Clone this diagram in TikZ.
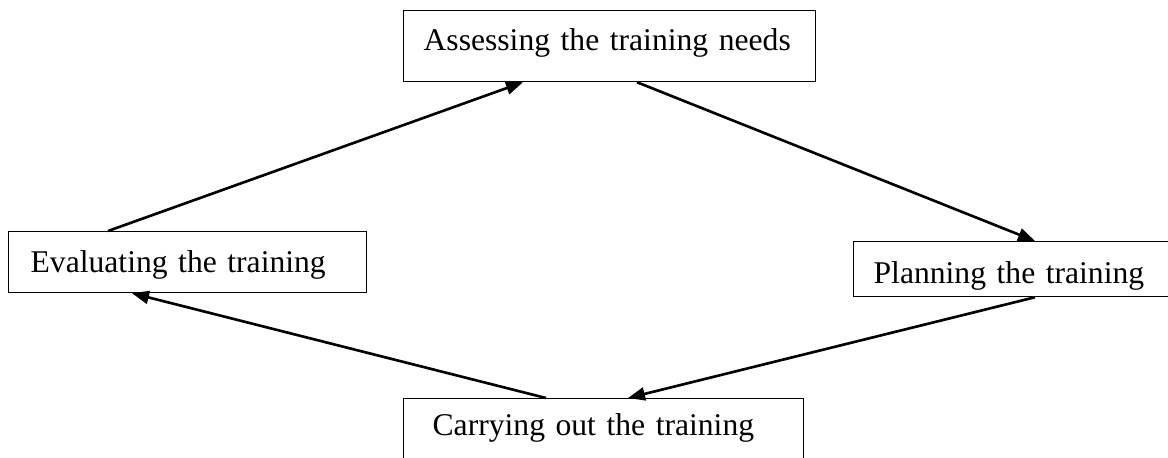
\documentclass[tikz,border=0pt]{standalone}
\usepackage{fontspec}
\setmainfont{Liberation Serif}
\usetikzlibrary{arrows.meta}

\begin{document}
\begin{tikzpicture}[
      stage/.style={draw=black,line width=0.7pt,anchor=north west,align=left,inner ysep=0pt,text depth=0pt,font=\fontsize{18}{21.6}\selectfont},
      flow/.style={-{Triangle[length=0.34cm,width=0.26cm]},line width=1.5pt}
    ]
      \useasboundingbox (0,0) rectangle (23.36,-9.14);
      \node[stage,inner xsep=0.4cm,text width=7.44cm,minimum height=1.42cm,text height=0.18cm] (assess) at (8.06,-0.2) {Assessing the training needs};
      \node[stage,inner xsep=0.44cm,text width=6.28cm,minimum height=1.22cm,text height=0.42cm] (eval) at (0.16,-4.62) {Evaluating the training};
      \node[stage,inner xsep=0.4cm,text width=5.8cm,minimum height=1.1cm,text height=0.58cm] (plan) at (17.06,-4.82) {Planning the training};
      \node[stage,inner xsep=0.58cm,text width=6.84cm,minimum height=1.48cm,text height=0cm] (carry) at (8.06,-7.96) {Carrying out the training};
      \draw[flow] ([xshift=2cm]eval.north west) -- ([xshift=2.4cm]assess.south west);
      \draw[flow] ([xshift=4.68cm]assess.south west) -- ([xshift=3.64cm]plan.north west);
      \draw[flow] ([xshift=3.64cm]plan.south west) -- ([xshift=4.5cm]carry.north west);
      \draw[flow] ([xshift=2.86cm]carry.north west) -- ([xshift=2.48cm]eval.south west);
    \end{tikzpicture}
\end{document}
